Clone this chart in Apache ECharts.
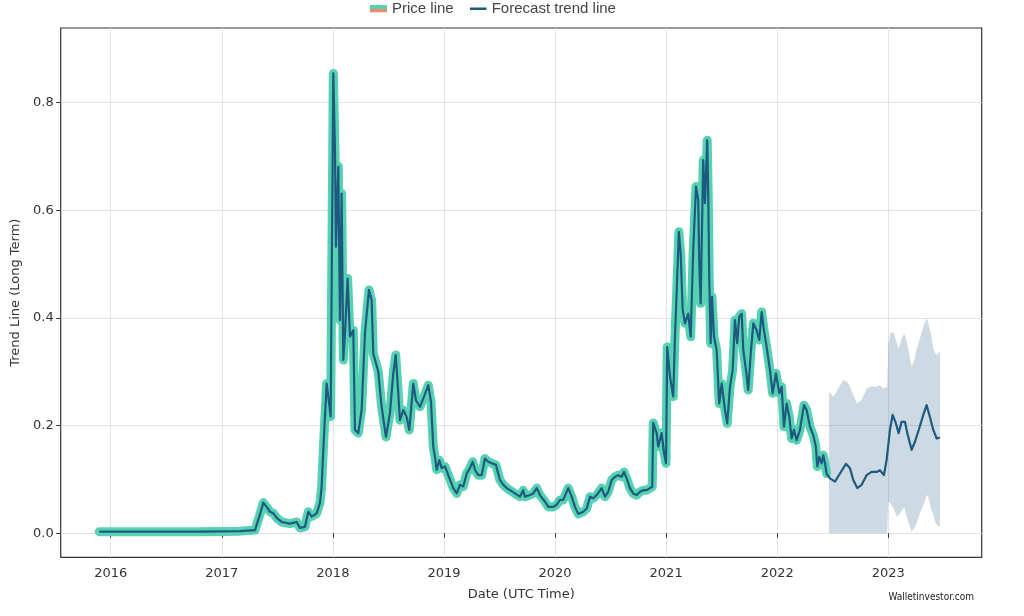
<!DOCTYPE html>
<html><head><meta charset="utf-8">
<script src="https://cdn.jsdelivr.net/npm/echarts@6/dist/echarts.min.js"></script>
<style>html,body{margin:0;padding:0;background:#fff}#c{width:1024px;height:616px}</style>
</head><body><div id="c"></div>
<script>
// ---- data (x = decimal year, y = price) ----
const yearTicks = [2016, 2017, 2018, 2019, 2020, 2021, 2022, 2023];
const valueTicks = [0, 0.2, 0.4, 0.6, 0.8];

const priceDates = [2015.897, 2016.354, 2016.804, 2017.164, 2017.299, 2017.344, 2017.374, 2017.407, 2017.434, 2017.464,
2017.497, 2017.539, 2017.614, 2017.674, 2017.704, 2017.749, 2017.779, 2017.809, 2017.854, 2017.884,
2017.899, 2017.914, 2017.944, 2017.961, 2017.980, 2018.004, 2018.019, 2018.028, 2018.049, 2018.064,
2018.079, 2018.094, 2018.109, 2018.133, 2018.154, 2018.184, 2018.199, 2018.229, 2018.259, 2018.289,
2018.325, 2018.349, 2018.364, 2018.409, 2018.439, 2018.478, 2018.514, 2018.544, 2018.566, 2018.589,
2018.604, 2018.634, 2018.664, 2018.688, 2018.724, 2018.748, 2018.784, 2018.814, 2018.859, 2018.883,
2018.904, 2018.919, 2018.935, 2018.958, 2018.980, 2019.010, 2019.039, 2019.084, 2019.115, 2019.144,
2019.174, 2019.205, 2019.234, 2019.259, 2019.279, 2019.309, 2019.340, 2019.369, 2019.399, 2019.430,
2019.468, 2019.504, 2019.534, 2019.565, 2019.594, 2019.639, 2019.684, 2019.714, 2019.729, 2019.774,
2019.804, 2019.835, 2019.864, 2019.909, 2019.939, 2019.984, 2020.015, 2020.045, 2020.074, 2020.119,
2020.150, 2020.179, 2020.209, 2020.254, 2020.285, 2020.315, 2020.344, 2020.375, 2020.420, 2020.450,
2020.479, 2020.510, 2020.540, 2020.569, 2020.600, 2020.621, 2020.645, 2020.674, 2020.704, 2020.735,
2020.765, 2020.794, 2020.825, 2020.854, 2020.875, 2020.884, 2020.915, 2020.929, 2020.960, 2020.981,
2020.999, 2021.010, 2021.035, 2021.064, 2021.079, 2021.115, 2021.131, 2021.149, 2021.170, 2021.199,
2021.221, 2021.244, 2021.269, 2021.289, 2021.298, 2021.311, 2021.334, 2021.350, 2021.370, 2021.379,
2021.388, 2021.401, 2021.413, 2021.431, 2021.455, 2021.478, 2021.500, 2021.530, 2021.550, 2021.575,
2021.599, 2021.620, 2021.640, 2021.658, 2021.680, 2021.695, 2021.719, 2021.739, 2021.764, 2021.785,
2021.815, 2021.839, 2021.860, 2021.881, 2021.905, 2021.935, 2021.959, 2021.989, 2022.019, 2022.040,
2022.061, 2022.085, 2022.109, 2022.130, 2022.151, 2022.175, 2022.205, 2022.241, 2022.265, 2022.295,
2022.325, 2022.348, 2022.361, 2022.379, 2022.400, 2022.415, 2022.430, 2022.445];

const priceValues = [0.003, 0.003, 0.003, 0.004, 0.006, 0.035, 0.057, 0.048, 0.040, 0.037,
0.028, 0.021, 0.018, 0.021, 0.010, 0.012, 0.040, 0.031, 0.037, 0.056,
0.087, 0.155, 0.278, 0.250, 0.217, 0.854, 0.712, 0.532, 0.681, 0.396,
0.631, 0.322, 0.371, 0.473, 0.365, 0.377, 0.192, 0.186, 0.229, 0.372,
0.452, 0.433, 0.334, 0.300, 0.235, 0.179, 0.223, 0.297, 0.331, 0.260,
0.210, 0.229, 0.216, 0.192, 0.278, 0.247, 0.235, 0.250, 0.275, 0.245,
0.161, 0.142, 0.118, 0.136, 0.121, 0.124, 0.108, 0.084, 0.074, 0.090,
0.087, 0.111, 0.121, 0.133, 0.118, 0.108, 0.108, 0.139, 0.133, 0.130,
0.127, 0.099, 0.090, 0.084, 0.080, 0.074, 0.068, 0.080, 0.068, 0.071,
0.074, 0.084, 0.071, 0.059, 0.049, 0.049, 0.053, 0.062, 0.062, 0.084,
0.068, 0.049, 0.036, 0.040, 0.046, 0.068, 0.065, 0.071, 0.084, 0.068,
0.077, 0.099, 0.105, 0.108, 0.105, 0.114, 0.102, 0.084, 0.074, 0.071,
0.077, 0.080, 0.080, 0.084, 0.086, 0.205, 0.186, 0.161, 0.186, 0.150,
0.130, 0.346, 0.291, 0.254, 0.359, 0.560, 0.520, 0.415, 0.390, 0.408,
0.365, 0.526, 0.644, 0.619, 0.507, 0.427, 0.693, 0.613, 0.730, 0.631,
0.476, 0.353, 0.439, 0.365, 0.340, 0.241, 0.278, 0.229, 0.204, 0.272,
0.303, 0.396, 0.353, 0.402, 0.408, 0.340, 0.303, 0.266, 0.340, 0.390,
0.377, 0.359, 0.411, 0.377, 0.346, 0.303, 0.260, 0.297, 0.260, 0.272,
0.198, 0.241, 0.216, 0.176, 0.192, 0.173, 0.192, 0.238, 0.229, 0.198,
0.182, 0.161, 0.124, 0.142, 0.130, 0.145, 0.130, 0.111];

const forecastDates = [2022.445, 2022.475, 2022.520, 2022.565, 2022.619, 2022.655, 2022.685, 2022.721, 2022.760, 2022.805,
2022.850, 2022.895, 2022.925, 2022.961, 2022.985, 2023.015, 2023.039, 2023.069, 2023.093, 2023.120,
2023.150, 2023.171, 2023.210, 2023.240, 2023.279, 2023.315, 2023.345, 2023.375, 2023.405, 2023.436, 2023.465];
const forecastValues = [0.111, 0.102, 0.096, 0.111, 0.129, 0.121, 0.099, 0.084, 0.090, 0.108,
0.114, 0.114, 0.117, 0.108, 0.136, 0.192, 0.220, 0.204, 0.186, 0.207,
0.207, 0.186, 0.155, 0.170, 0.195, 0.220, 0.238, 0.216, 0.192, 0.176, 0.178];

const bandDates = [2022.466, 2022.505, 2022.550, 2022.595, 2022.640, 2022.685, 2022.721, 2022.760, 2022.805, 2022.850,
2022.895, 2022.925, 2022.955, 2022.990, 2023.000, 2023.021, 2023.051, 2023.075, 2023.090, 2023.105,
2023.120, 2023.144, 2023.165, 2023.210, 2023.240, 2023.249, 2023.285, 2023.321, 2023.345, 2023.354,
2023.375, 2023.384, 2023.405, 2023.420, 2023.436, 2023.450, 2023.465];
const bandLower = [0, 0, 0, 0, 0, 0, 0, 0, 0, 0,
0, 0, 0, 0, 0.060, 0.055, 0.045, 0.031, 0.033, 0.037,
0.042, 0.049, 0.031, 0.003, 0.012, 0.016, 0.037, 0.055, 0.069, 0.071,
0.055, 0.046, 0.035, 0.022, 0.016, 0.012, 0.015];
const bandUpper = [0.263, 0.254, 0.269, 0.285, 0.279, 0.257, 0.241, 0.248, 0.269, 0.273,
0.272, 0.275, 0.269, 0.272, 0.350, 0.374, 0.371, 0.355, 0.343, 0.350,
0.362, 0.371, 0.358, 0.309, 0.325, 0.337, 0.362, 0.387, 0.399, 0.395,
0.377, 0.370, 0.343, 0.336, 0.331, 0.334, 0.337];

// ---- build ----
const GREEN = '#56d2b2', DARK = '#1e5a80', ORANGE = '#f08a6c', BAND = 'rgba(72,118,150,0.27)';
const pair = (xs, ys) => xs.map((x, i) => [x, ys[i]]);
const priceData = pair(priceDates, priceValues);
const trendData = priceData.concat(pair(forecastDates.slice(1), forecastValues.slice(1)));
const bandData = bandDates.map((x, i) => [x, bandLower[i], bandUpper[i]]);

const svgIcon = s => 'image://data:image/svg+xml;charset=utf-8,' + encodeURIComponent(s);
const priceIcon = svgIcon('<svg xmlns="http://www.w3.org/2000/svg" width="17" height="8"><rect x="0" y="0" width="17" height="4.5" fill="' + GREEN + '"/><rect x="0" y="4.5" width="17" height="3.5" fill="' + ORANGE + '"/></svg>');
const trendIcon = svgIcon('<svg xmlns="http://www.w3.org/2000/svg" width="17" height="8"><rect x="0" y="3" width="17" height="2.5" fill="' + DARK + '"/></svg>');

const FONT = 'DejaVu Sans';
const chart = echarts.init(document.getElementById('c'));
chart.setOption({
  animation: false,
  backgroundColor: '#fff',
  legend: {
    left: 370, top: 1, padding: 0,
    itemWidth: 17, itemHeight: 8, itemGap: 16,
    textStyle: { fontFamily: 'Liberation Sans', fontSize: 15, color: '#444' },
    data: [
      { name: 'Price line', icon: priceIcon },
      { name: 'Forecast trend line', icon: trendIcon }
    ]
  },
  grid: { left: 60.7, right: 42.3, top: 28, bottom: 58.7, show: true, borderColor: '#333', borderWidth: 1.2 },
  xAxis: {
    type: 'value', min: 2015.550, max: 2023.841,
    axisLine: { show: false },
    axisTick: { show: true, customValues: yearTicks, length: 4.5, lineStyle: { color: '#333' } },
    axisLabel: { customValues: yearTicks, formatter: v => String(Math.round(v)), fontFamily: FONT, fontSize: 13, color: '#333', margin: 10 },
    splitLine: { show: true, lineStyle: { color: '#e3e3e3', width: 1 } },
    name: 'Date (UTC Time)', nameLocation: 'middle', nameGap: 31,
    nameTextStyle: { fontFamily: FONT, fontSize: 13, color: '#333' }
  },
  yAxis: {
    type: 'value', min: -0.0446, max: 0.9384,
    axisLine: { show: false },
    axisTick: { show: true, customValues: valueTicks, length: 4.5, lineStyle: { color: '#333' } },
    axisLabel: { customValues: valueTicks, formatter: v => v.toFixed(1), fontFamily: FONT, fontSize: 13, color: '#333', margin: 7 },
    splitLine: { show: true, lineStyle: { color: '#e3e3e3', width: 1 } },
    name: 'Trend Line (Long Term)', nameLocation: 'middle', nameGap: 38,
    nameTextStyle: { fontFamily: FONT, fontSize: 13, color: '#333' }
  },
  graphic: [{
    type: 'text', right: 50, top: 592,
    style: { text: 'Walletinvestor.com', fontFamily: 'Liberation Sans Narrow, DejaVu Sans Condensed, Liberation Sans', fontSize: 10, fill: '#222' }
  }],
  series: [
    { name: 'band', type: 'custom', data: bandData, silent: true, z: 1, clip: true,
      encode: { x: 0, y: [1, 2] },
      renderItem: (params, api) => {
        if (params.dataIndex !== 0) return null;
        const up = bandData.map(d => api.coord([d[0], d[2]]));
        const lo = bandData.map(d => api.coord([d[0], d[1]])).reverse();
        return { type: 'polygon', shape: { points: up.concat(lo) }, style: { fill: BAND } };
      } },
    { name: 'Price line', type: 'line', data: priceData, symbol: 'none',
      lineStyle: { color: GREEN, width: 9, cap: 'round', join: 'round' }, itemStyle: { color: GREEN }, silent: true, z: 2 },
    { name: 'Forecast trend line', type: 'line', data: trendData, symbol: 'none',
      lineStyle: { color: DARK, width: 2.2, join: 'round' }, itemStyle: { color: DARK }, silent: true, z: 3 }
  ]
});
</script></body></html>
